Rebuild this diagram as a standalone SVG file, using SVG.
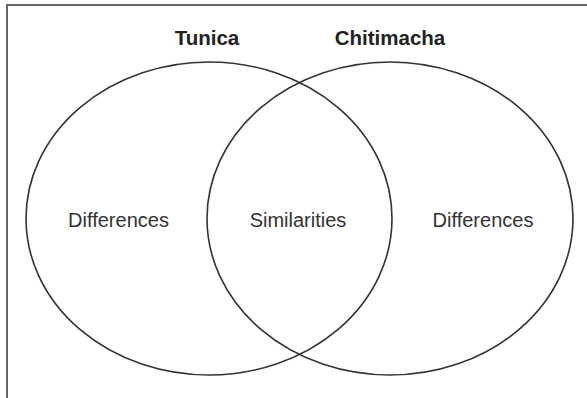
<svg xmlns="http://www.w3.org/2000/svg" width="587" height="398" viewBox="0 0 587 398">
<style>
.frame{fill:none;stroke:#666;stroke-width:2}
.set{fill:none;stroke:#333;stroke-width:1.6}
.title{font-family:"Liberation Sans",Arial,sans-serif;font-weight:bold;font-size:20.5px;fill:#222;text-anchor:middle}
.lbl{font-family:"Liberation Sans",Arial,sans-serif;font-size:20px;fill:#333;text-anchor:middle}
</style>
<rect width="587" height="398" fill="#fff"/>
<path class="frame" d="M7,400 V5 H590"/>
<g id="tunica">
<ellipse class="set" cx="209" cy="218.5" rx="183" ry="156.5"/>
<text class="title" x="207" y="45">Tunica</text>
<text class="lbl" x="118.5" y="227">Differences</text>
</g>
<g id="chitimacha">
<ellipse class="set" cx="390" cy="218.5" rx="183" ry="156.5"/>
<text class="title" x="390" y="45">Chitimacha</text>
<text class="lbl" x="483" y="227">Differences</text>
</g>
<g id="overlap">
<text class="lbl" x="298" y="227">Similarities</text>
</g>
<g id="connectors"/>
</svg>
